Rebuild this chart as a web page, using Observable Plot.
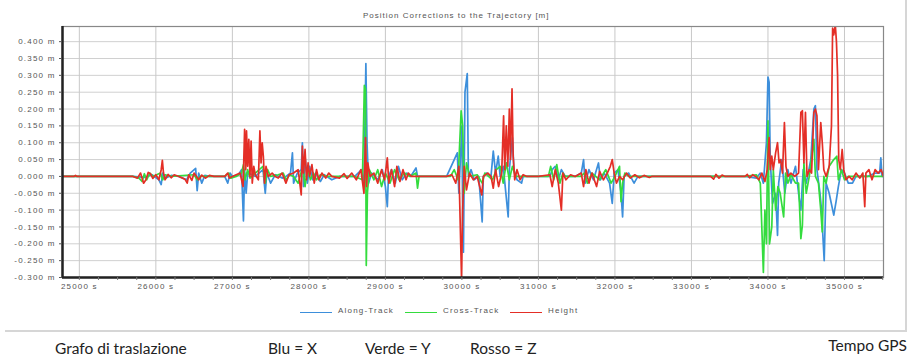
<!DOCTYPE html>
<html><head><meta charset="utf-8">
<script src="https://cdn.jsdelivr.net/npm/d3@7"></script>
<script src="https://cdn.jsdelivr.net/npm/@observablehq/plot@0.6"></script>
<style>
body{margin:0;background:#fff;width:911px;height:359px;position:relative;overflow:hidden;font-family:Arial,"Liberation Sans",sans-serif;}
#box{position:absolute;left:5px;top:-5px;width:900px;height:335px;border-right:2px solid #d6d6d6;border-bottom:2px solid #d6d6d6;}
#chart{position:absolute;left:0;top:0;}
#chart svg text{letter-spacing:1.2px;}
#title{position:absolute;top:11px;left:363px;font-size:8px;letter-spacing:1px;color:#555;white-space:nowrap;}
.leg{position:absolute;top:306px;font-size:8px;letter-spacing:1.2px;color:#555;white-space:nowrap;}
.lsw{position:absolute;top:312px;height:1px;width:32px;}
.bt{position:absolute;font-family:Lato,"Open Sans",sans-serif;font-size:15.5px;color:#222;white-space:nowrap;}
</style>
</head><body>
<div id="box"></div>
<div id="chart"></div>
<div id="title"></div>
<div id="legend"></div>
<div id="bottom"></div>
<script>
const chartTitle = "Position Corrections to the Trajectory [m]";
const seriesNames = ["Along-Track", "Cross-Track", "Height"];
const bottomLabels = ["Grafo di traslazione", "Blu = X", "Verde = Y", "Rosso = Z", "Tempo GPS"];
const xTicks = [25000, 26000, 27000, 28000, 29000, 30000, 31000, 32000, 33000, 34000, 35000];
const yTicks = [-0.30, -0.25, -0.20, -0.15, -0.10, -0.05, 0, 0.05, 0.10, 0.15, 0.20, 0.25, 0.30, 0.35, 0.40];
const xDomain = [24780, 35510];
const yDomain = [-0.30, 0.445];

// [time (s), correction (m)]
const alongTrack = [[24780,0],[25700,0],[25850,-0.003],[25950,0.005],[26040,-0.01],[26070,-0.024],[26090,0.01],[26130,-0.005],[26200,0.003],[26300,0],[26400,-0.01],[26450,0.01],[26520,0.024],[26540,-0.042],[26560,0.01],[26600,-0.02],[26640,0.003],[26700,0],[26900,0],[26940,-0.02],[26970,0.01],[27000,0],[27080,0.005],[27120,0.02],[27145,-0.132],[27160,0.02],[27180,-0.05],[27200,0.01],[27260,0.005],[27300,0],[27400,0.02],[27430,-0.05],[27450,0.01],[27500,-0.02],[27560,0.005],[27650,-0.005],[27700,0],[27760,0.01],[27785,0.07],[27800,-0.02],[27850,0.01],[27900,0.02],[27915,0.1],[27930,-0.03],[27950,0.06],[27980,-0.02],[28010,0.03],[28050,-0.01],[28090,0.01],[28150,-0.015],[28200,0.005],[28300,-0.01],[28400,0],[28600,0],[28690,0.02],[28720,-0.03],[28745,0.335],[28760,0.1],[28780,-0.02],[28820,0.01],[28900,-0.01],[28960,0.02],[29000,-0.03],[29025,-0.09],[29040,0.0],[29080,0.02],[29130,-0.02],[29170,0.03],[29220,-0.01],[29280,0.01],[29330,0.0],[29400,0.025],[29420,0],[29800,0],[29900,0.05],[29940,0.07],[29960,-0.05],[30000,0.15],[30020,-0.225],[30040,0.25],[30070,0.305],[30085,0.0],[30120,0.02],[30160,-0.01],[30220,0.0],[30265,-0.135],[30280,0.0],[30320,0.01],[30380,0.0],[30410,0.075],[30440,0.01],[30475,0.06],[30500,0.0],[30540,0.03],[30605,-0.12],[30620,0.02],[30660,0.115],[30680,0.02],[30720,-0.01],[30780,-0.02],[30800,0.0],[30900,0],[31150,0],[31180,0.02],[31220,0.03],[31260,-0.01],[31300,0.02],[31350,0],[31480,0],[31560,0.01],[31590,0.05],[31610,-0.02],[31660,0.02],[31720,-0.01],[31785,0.04],[31810,-0.01],[31860,0.01],[31930,-0.02],[31965,-0.08],[31990,0.01],[32040,0.02],[32080,-0.05],[32100,-0.12],[32120,0.0],[32180,0.01],[32250,-0.02],[32300,0],[33700,0],[33850,-0.005],[33900,0.01],[33940,-0.02],[33980,0.1],[34000,0.295],[34015,0.28],[34030,0.05],[34060,-0.08],[34100,-0.05],[34125,-0.175],[34140,-0.02],[34180,0.05],[34220,-0.05],[34260,0.02],[34300,-0.02],[34360,0.03],[34400,-0.05],[34430,-0.1],[34460,0.02],[34500,-0.02],[34560,0.05],[34600,0.2],[34620,0.21],[34640,0.02],[34680,-0.05],[34700,-0.1],[34735,-0.25],[34760,-0.02],[34800,-0.05],[34860,-0.115],[34890,-0.075],[34920,-0.03],[34960,0.02],[35000,0.01],[35050,-0.02],[35105,-0.02],[35150,0.0],[35300,0],[35400,0.01],[35460,0.01],[35475,0.055],[35490,0.0],[35510,0.0]];

const crossTrack = [[24780,0],[25700,0],[25780,-0.005],[25820,-0.015],[25850,0.008],[25880,-0.01],[25920,0.01],[25960,0],[26060,0.01],[26090,-0.01],[26120,0.005],[26200,0],[26500,0.005],[26540,-0.01],[26580,0],[26900,0],[26950,0.01],[26980,-0.005],[27050,0],[27120,0.01],[27145,0.035],[27165,-0.01],[27200,0.02],[27230,-0.005],[27300,0.01],[27400,0.03],[27430,-0.02],[27460,0.02],[27500,0],[27600,0.005],[27665,0.01],[27700,-0.01],[27750,0.005],[27800,0],[27860,-0.02],[27920,0.03],[27950,-0.03],[27980,0.025],[28020,-0.01],[28060,0.01],[28100,-0.01],[28150,0.005],[28250,0],[28600,0],[28700,-0.01],[28725,0.27],[28740,0.26],[28750,-0.264],[28765,-0.05],[28790,0.02],[28850,-0.01],[28900,0.02],[28950,-0.03],[29000,0.01],[29060,-0.02],[29120,0.02],[29180,-0.01],[29250,0.01],[29320,0],[29400,0.01],[29420,-0.035],[29440,0],[29850,0],[29900,0.02],[29950,-0.01],[29990,0.195],[30010,0.15],[30030,-0.05],[30060,0.04],[30100,0],[30200,0.005],[30265,-0.02],[30300,0.01],[30400,-0.01],[30450,0.02],[30500,0.03],[30540,-0.02],[30580,0.04],[30620,-0.01],[30660,0.03],[30700,0],[31130,0],[31160,0.03],[31200,-0.01],[31240,0.035],[31280,-0.02],[31320,0.01],[31350,0],[31550,0],[31600,0.01],[31640,-0.02],[31700,0.01],[31800,-0.01],[31880,0.02],[31950,-0.02],[32000,0],[32060,0.03],[32080,-0.075],[32100,-0.02],[32130,0.01],[32180,0],[33700,0],[33850,0.005],[33900,-0.02],[33940,-0.285],[33960,-0.1],[33980,-0.2],[34000,0.165],[34020,-0.2],[34050,-0.15],[34070,0.02],[34100,-0.1],[34130,-0.03],[34160,-0.05],[34205,-0.12],[34230,0.01],[34260,-0.02],[34300,0.005],[34360,-0.02],[34400,-0.02],[34430,-0.185],[34450,-0.145],[34470,0.04],[34500,-0.05],[34540,0.0],[34600,0.11],[34620,0.0],[34660,-0.02],[34690,-0.1],[34710,-0.165],[34730,0.0],[34760,-0.02],[34800,0.03],[34860,0.05],[34900,0.06],[34920,-0.01],[34960,0.02],[35000,-0.01],[35050,0],[35510,0]];

const height = [[24780,0],[24930,0],[24950,0.003],[24970,0],[25700,0],[25760,-0.005],[25800,0.01],[25840,-0.02],[25870,-0.01],[25900,0.012],[25930,0.008],[25960,-0.006],[26000,0.005],[26040,-0.01],[26070,0.02],[26085,0.048],[26100,0.01],[26120,-0.01],[26160,0.006],[26200,-0.004],[26240,0.005],[26300,0],[26380,-0.008],[26410,-0.02],[26430,0.005],[26470,-0.012],[26500,0.01],[26560,-0.01],[26600,0.004],[26650,-0.005],[26700,0.003],[26760,0],[26900,0],[26940,0.01],[26960,-0.005],[27000,0],[27100,0.01],[27140,-0.03],[27160,0.14],[27175,0.02],[27185,0.135],[27200,0.03],[27215,0.11],[27230,0.0],[27245,0.105],[27260,-0.02],[27280,0.03],[27300,0.005],[27340,-0.01],[27360,0.135],[27375,0.04],[27390,0.1],[27405,0.06],[27420,-0.02],[27440,0.03],[27470,0.0],[27520,0.01],[27560,0],[27600,-0.005],[27650,0.01],[27700,-0.02],[27740,0.005],[27800,0.01],[27860,0.02],[27900,-0.055],[27915,0.09],[27930,0.01],[27950,0.08],[27970,-0.01],[27990,0.04],[28010,0.0],[28040,0.035],[28070,-0.02],[28100,0.02],[28130,-0.01],[28170,0.01],[28220,-0.005],[28260,0.01],[28300,0],[28400,-0.005],[28460,0.008],[28500,-0.006],[28560,0.01],[28620,-0.01],[28680,0.02],[28720,-0.05],[28740,0.115],[28755,-0.03],[28770,0.04],[28800,0.0],[28850,0.01],[28900,-0.02],[28950,0.02],[28990,-0.01],[29025,0.055],[29045,-0.02],[29080,0.02],[29120,-0.03],[29150,0.03],[29190,-0.015],[29230,0.02],[29270,-0.01],[29300,0.01],[29340,0],[29450,0],[29800,0],[29870,0.005],[29920,-0.02],[29960,0.03],[29995,-0.3],[30010,-0.1],[30030,0.03],[30060,-0.04],[30100,0.01],[30150,-0.01],[30200,0],[30260,-0.055],[30280,0.0],[30340,0.01],[30380,0.0],[30410,-0.035],[30440,0.02],[30480,-0.03],[30520,0.01],[30545,0.18],[30560,0.02],[30580,0.15],[30600,0.03],[30620,0.2],[30635,0.05],[30655,0.26],[30670,0.06],[30690,-0.01],[30720,0.02],[30760,-0.01],[30800,0.005],[30850,0],[31000,0],[31150,0.005],[31180,-0.03],[31220,0.02],[31260,-0.02],[31300,-0.1],[31320,0.01],[31360,-0.01],[31420,0.005],[31480,0],[31560,0.01],[31590,-0.03],[31620,0.02],[31660,-0.02],[31700,0.01],[31760,-0.03],[31800,0.015],[31850,-0.01],[31900,0.01],[31940,0.03],[31965,0.05],[31990,0.01],[32020,-0.02],[32060,0.0],[32100,-0.01],[32150,0.01],[32200,-0.005],[32260,0.005],[32320,-0.004],[32380,0.003],[32450,-0.003],[32480,0],[33250,0],[33290,-0.008],[33320,0.006],[33360,-0.005],[33400,0.004],[33440,0],[33700,0],[33730,0.006],[33760,-0.004],[33800,0.005],[33840,0],[33880,-0.01],[33920,0.01],[33960,-0.015],[33990,0.02],[34015,0.115],[34030,0.02],[34050,0.06],[34070,0.02],[34100,0.07],[34125,0.1],[34145,0.04],[34165,0.05],[34190,0.01],[34215,0.16],[34235,0.03],[34260,0.0],[34300,0.01],[34350,0.0],[34400,0.01],[34430,0.19],[34450,0.195],[34470,0.04],[34490,0.19],[34510,0.0],[34540,0.02],[34570,0.01],[34600,0.19],[34620,0.2],[34640,0.18],[34660,0.02],[34690,0.16],[34710,0.1],[34730,0.02],[34760,0.0],[34800,0.03],[34830,0.15],[34845,0.44],[34860,0.42],[34880,0.45],[34895,0.4],[34910,0.3],[34925,0.05],[34945,0.02],[34970,0.08],[34990,0.02],[35020,-0.01],[35060,0.0],[35100,-0.01],[35150,0.01],[35200,-0.005],[35240,0.01],[35265,-0.09],[35280,0.01],[35320,0.02],[35360,-0.01],[35400,0.02],[35440,0.01],[35480,0.02],[35510,0]];

const colors = ["#3d8fdb", "#34dc3e", "#e42e26"];
const minorTicks = d3.range(24750, 35600, 250).filter(t => t >= xDomain[0] && t <= xDomain[1]);

const fmtY = v => (v < -1e-9 ? "-" : "") + Math.abs(v).toFixed(3) + " m";
const acc = {x: d => d[0], y: d => d[1]};

const plot = Plot.plot({
  width: 911, height: 300,
  marginLeft: 62, marginRight: 28, marginTop: 26, marginBottom: 23,
  style: {fontFamily: "Arial, 'Liberation Sans', sans-serif", fontSize: "8px", color: "#555", background: "transparent"},
  x: {domain: xDomain},
  y: {domain: yDomain},
  marks: [
    Plot.gridY(yTicks, {stroke: "#d0d0d0", strokeOpacity: 1}),
    Plot.gridX(xTicks, {stroke: "#c8c8c8", strokeOpacity: 1}),
    Plot.line(alongTrack, {...acc, stroke: colors[0], strokeWidth: 1.7, clip: true}),
    Plot.line(crossTrack, {...acc, stroke: colors[1], strokeWidth: 1.7, clip: true}),
    Plot.line(height, {...acc, stroke: colors[2], strokeWidth: 1.7, clip: true}),
    Plot.frame({stroke: "#888", strokeWidth: 1.2}),
    Plot.ruleX([xDomain[0]], {stroke: "#222", strokeWidth: 2.5}),
    Plot.ruleY([yDomain[0]], {stroke: "#222", strokeWidth: 2.5}),
    Plot.axisY(yTicks, {tickFormat: fmtY, tickSize: 3, tickPadding: 4, stroke: "#555", fill: "#555"}),
    Plot.axisX(minorTicks, {tickSize: 3, text: null, stroke: "#777"}),
    Plot.axisX(xTicks, {tickFormat: d => d + " s", tickSize: 0, tickPadding: 6, fill: "#555"})
  ]
});
document.getElementById("chart").appendChild(plot);
document.getElementById("title").textContent = chartTitle;

const legX = [{line: 300, text: 338}, {line: 405, text: 443}, {line: 510, text: 548}];
const leg = document.getElementById("legend");
seriesNames.forEach((n, i) => {
  const sw = document.createElement("div");
  sw.className = "lsw"; sw.style.left = legX[i].line + "px"; sw.style.background = colors[i];
  leg.appendChild(sw);
  const t = document.createElement("div");
  t.className = "leg"; t.style.left = legX[i].text + "px"; t.textContent = n;
  leg.appendChild(t);
});
const bPos = [{l: 55, t: 339}, {l: 268, t: 339}, {l: 365, t: 339}, {l: 470, t: 339}, {r: 4, t: 336}];
const bot = document.getElementById("bottom");
bottomLabels.forEach((s, i) => {
  const d = document.createElement("div");
  d.className = "bt"; d.style.top = bPos[i].t + "px"; d.textContent = s;
  if (bPos[i].r !== undefined) d.style.right = bPos[i].r + "px"; else d.style.left = bPos[i].l + "px";
  bot.appendChild(d);
});
</script>
</body></html>
